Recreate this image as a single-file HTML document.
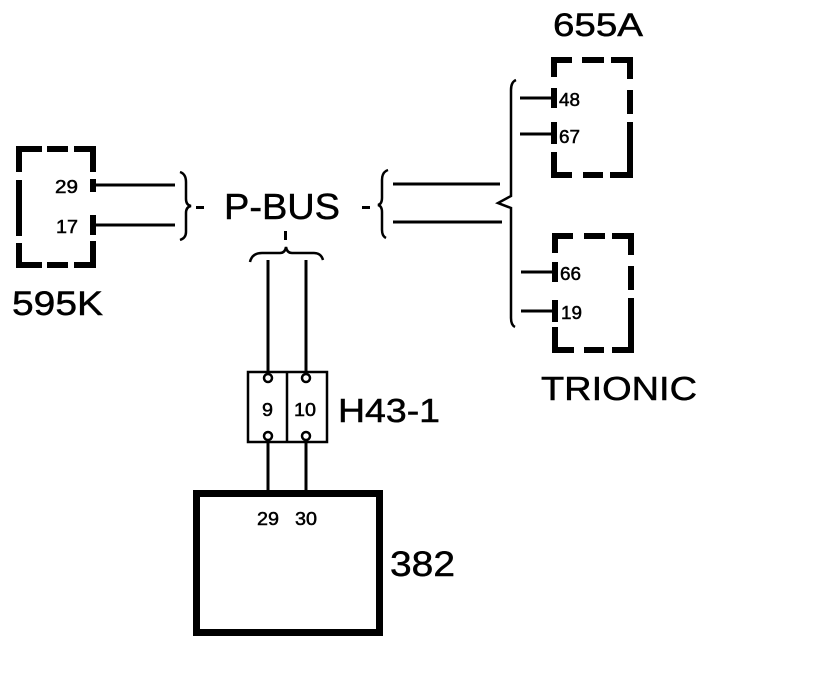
<!DOCTYPE html>
<html><head><meta charset="utf-8"><style>html,body{margin:0;padding:0;background:#fff}svg{display:block}</style></head>
<body>
<svg width="832" height="678" viewBox="0 0 832 678" xmlns="http://www.w3.org/2000/svg" font-family="Liberation Sans, Arial, sans-serif">
<g fill="#000" stroke="none">
<rect x="16" y="146" width="26" height="6"/><rect x="47" y="146" width="21" height="6"/><rect x="74" y="146" width="22" height="6"/>
<rect x="16" y="146" width="6" height="26"/><rect x="16" y="180" width="6" height="56"/><rect x="16" y="243" width="6" height="25"/>
<rect x="16" y="262" width="26" height="6"/><rect x="47" y="262" width="21" height="6"/><rect x="74" y="262" width="22" height="6"/>
<rect x="90" y="146" width="6" height="26"/><rect x="90" y="179" width="6" height="13"/><rect x="90" y="215" width="6" height="20"/><rect x="90" y="241" width="6" height="27"/>
<rect x="551" y="57" width="21" height="6"/><rect x="582" y="57" width="22" height="6"/><rect x="611" y="57" width="22" height="6"/>
<rect x="551" y="57" width="6" height="20"/><rect x="551" y="152" width="6" height="26"/>
<rect x="551" y="172" width="21" height="6"/><rect x="583" y="172" width="20" height="6"/><rect x="610" y="172" width="23" height="6"/>
<rect x="627" y="57" width="6" height="22"/><rect x="627" y="90" width="6" height="24"/><rect x="627" y="122" width="6" height="56"/>
<rect x="551" y="88" width="6" height="20"/><rect x="551" y="122" width="6" height="22"/>
<rect x="552" y="233" width="21" height="6"/><rect x="584" y="233" width="21" height="6"/><rect x="612" y="233" width="22" height="6"/>
<rect x="552" y="233" width="6" height="20"/><rect x="552" y="327" width="6" height="26"/>
<rect x="552" y="347" width="22" height="6"/><rect x="584" y="347" width="20" height="6"/><rect x="612" y="347" width="22" height="6"/>
<rect x="628" y="233" width="6" height="22"/><rect x="628" y="266" width="6" height="24"/><rect x="628" y="298" width="6" height="55"/>
<rect x="552" y="262" width="6" height="20"/><rect x="552" y="300" width="6" height="22"/>
<rect x="196" y="206" width="8" height="3"/><rect x="362" y="206" width="8" height="3"/>
<rect x="284" y="231" width="3" height="9"/>
</g>
<g stroke="#000" fill="none" stroke-width="3">
<line x1="96" y1="185" x2="175" y2="185"/><line x1="96" y1="225" x2="175" y2="225"/>
<line x1="393" y1="184" x2="500" y2="184"/><line x1="393" y1="222" x2="502" y2="222"/>
<line x1="520" y1="98" x2="551" y2="98"/><line x1="520" y1="134" x2="551" y2="134"/>
<line x1="521" y1="272" x2="552" y2="272"/><line x1="521" y1="311" x2="552" y2="311"/>
<line x1="268" y1="260" x2="268" y2="374"/><line x1="306" y1="260" x2="306" y2="374"/>
<line x1="268" y1="440" x2="268" y2="492"/><line x1="306" y1="440" x2="306" y2="492"/>
</g>
<g stroke="#000" fill="none" stroke-width="2.5">
<path d="M180 172 Q186 174 186 182 L186 199 Q186 205 191 206 Q186 207 186 213 L186 232 Q186 238 180 240"/>
<path d="M388 170 Q382 172 382 180 L382 198 Q382 204 378 205 Q382 206 382 212 L382 230 Q382 236 386 238"/>
<path d="M516 80 Q511 82 511 90 L511 196 L498 203 L511 208 L511 318 Q511 325 515 327"/>
<path d="M250 262 Q252 253 262 253 L280 253 Q285 253 286 247 Q287 253 292 253 L314 253 Q321 253 323 260"/>
</g>
<g stroke="#000" fill="none" stroke-width="2.5">
<rect x="248" y="372" width="79" height="70"/><line x1="287" y1="372" x2="287" y2="442"/>
</g>
<g stroke="#000" fill="#fff" stroke-width="2.5">
<circle cx="268" cy="378" r="4"/><circle cx="306" cy="378" r="4"/>
<circle cx="268" cy="436" r="4"/><circle cx="306" cy="436" r="4"/>
</g>
<rect x="196.5" y="493.5" width="183" height="139" stroke="#000" stroke-width="7" fill="none"/>
<g fill="#000" stroke="#000" stroke-width="0.5">
<text x="55" y="193" font-size="18" textLength="23" lengthAdjust="spacingAndGlyphs">29</text>
<text x="56" y="233" font-size="18" textLength="22" lengthAdjust="spacingAndGlyphs">17</text>
<text x="12" y="315" font-size="34" textLength="91" lengthAdjust="spacingAndGlyphs">595K</text>
<text x="224" y="219" font-size="36" textLength="116" lengthAdjust="spacingAndGlyphs">P-BUS</text>
<text x="553" y="36" font-size="32" textLength="90" lengthAdjust="spacingAndGlyphs">655A</text>
<text x="559" y="106" font-size="18" textLength="21" lengthAdjust="spacingAndGlyphs">48</text>
<text x="559" y="143" font-size="18" textLength="21" lengthAdjust="spacingAndGlyphs">67</text>
<text x="560" y="280" font-size="18" textLength="21" lengthAdjust="spacingAndGlyphs">66</text>
<text x="561" y="319" font-size="18" textLength="21" lengthAdjust="spacingAndGlyphs">19</text>
<text x="541" y="400" font-size="33" textLength="156" lengthAdjust="spacingAndGlyphs">TRIONIC</text>
<text x="262" y="416" font-size="18" textLength="11" lengthAdjust="spacingAndGlyphs">9</text>
<text x="294" y="416" font-size="18" textLength="22" lengthAdjust="spacingAndGlyphs">10</text>
<text x="338" y="422" font-size="33" textLength="102" lengthAdjust="spacingAndGlyphs">H43-1</text>
<text x="257" y="525" font-size="18" textLength="22" lengthAdjust="spacingAndGlyphs">29</text>
<text x="295" y="525" font-size="18" textLength="22" lengthAdjust="spacingAndGlyphs">30</text>
<text x="390" y="576" font-size="35" textLength="65" lengthAdjust="spacingAndGlyphs">382</text>
</g>
</svg>
</body></html>
